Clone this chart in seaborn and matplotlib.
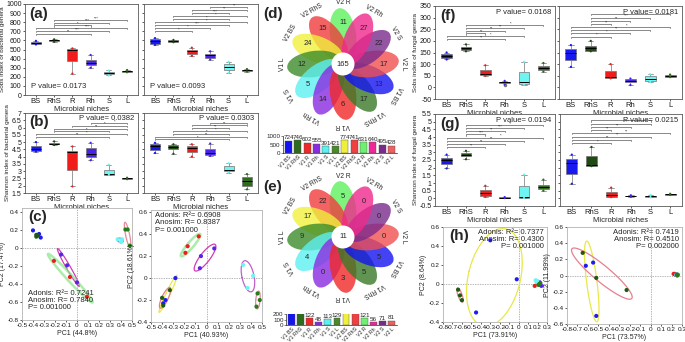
import numpy as np
import pandas as pd
import matplotlib
matplotlib.use('Agg')
import matplotlib.pyplot as plt
from matplotlib.patches import Ellipse, Circle
import seaborn as sns

sns.set_theme(style='ticks')
plt.rcParams['font.family'] = ['Liberation Sans', 'DejaVu Sans']
plt.rcParams['axes.linewidth'] = 0.6

W, H = 685, 342
fig = plt.figure(figsize=(W / 100, H / 100), dpi=100)

# ---------------- data ----------------
niches = ['BS', 'RhS', 'R', 'Rh', 'S', 'L']
box_palette = ['#1818f0', '#1f4a14', '#f01c1c', '#4a22e6', '#6ff4f4', '#2f6a1f']

sobs_bact_1 = [[555, 562, 572, 585, 595], [585, 592, 600, 606, 612], [235, 372, 500, 508, 512],
               [300, 325, 350, 390, 440], [215, 232, 245, 255, 270], [250, 255, 260, 265, 275]]
sobs_bact_2 = [[550, 565, 590, 620, 625], [580, 585, 592, 600, 605], [430, 455, 480, 500, 520],
               [390, 410, 435, 455, 480], [245, 280, 310, 340, 365], [258, 265, 272, 280, 285]]
shan_bact_1 = [[4.35, 4.4, 4.55, 4.7, 5.0], [4.8, 4.85, 4.9, 4.95, 5.05], [1.95, 3.1, 4.3, 4.4, 4.7],
               [3.75, 3.95, 4.2, 4.6, 4.95], [2.75, 2.75, 2.8, 3.1, 3.45], [2.45, 2.48, 2.5, 2.52, 2.55]]
shan_bact_2 = [[4.25, 4.45, 4.7, 4.85, 4.95], [4.2, 4.5, 4.65, 4.8, 4.85], [4.0, 4.35, 4.6, 4.75, 4.85],
               [4.05, 4.1, 4.25, 4.5, 4.9], [2.9, 3.0, 3.1, 3.35, 3.55], [1.75, 2.0, 2.3, 2.6, 2.8]]
sobs_fung_1 = [[120, 127, 135, 142, 150], [155, 160, 168, 175, 185], [50, 52, 57, 75, 95],
               [12, 20, 23, 25, 28], [12, 15, 22, 65, 110], [68, 75, 85, 92, 105]]
sobs_fung_2 = [[88, 118, 149, 165, 182], [155, 158, 171, 179, 200], [39, 40, 45, 72, 100],
               [10, 22, 28, 36, 38], [23, 29, 38, 49, 57], [44, 46, 49, 53, 55]]
shan_fung_1 = [[1.95, 2.25, 2.5, 2.65, 2.85], [2.55, 2.75, 2.85, 2.95, 3.1], [0.1, 0.15, 0.35, 0.55, 0.82],
               [0.02, 0.04, 0.05, 0.06, 0.08], [0.02, 0.05, 0.08, 0.8, 1.55], [0.5, 0.58, 0.72, 0.9, 1.22]]
shan_fung_2 = [[0.95, 1.6, 2.3, 2.55, 2.85], [2.1, 2.12, 2.2, 2.76, 3.35], [0.08, 0.1, 0.2, 0.4, 0.7],
               [0.1, 0.12, 0.15, 0.18, 0.2], [0.08, 0.1, 0.13, 0.18, 0.22], [0.22, 0.24, 0.26, 0.28, 0.3]]

p_a = ['P value= 0.0173', 'P value= 0.0093']
p_b = ['P value= 0.0382', 'P value= 0.0303']
p_f = ['P value= 0.0168', 'P value= 0.0181']
p_g = ['P value= 0.0194', 'P value= 0.0215']

sig_a1 = [(1, 5, '***'), (1, 4, '***'), (1, 3, '*'), (0, 5, '***'), (0, 4, '***'), (0, 3, '**')]
sig_a2 = [(3, 5, '**'), (2, 5, '**'), (2, 4, '***'), (1, 5, '*'), (1, 4, '*'), (0, 5, '*'),
          (0, 4, '***'), (0, 3, '*'), (0, 2, '*')]
sig_b1 = [(3, 5, '*'), (2, 5, '*'), (1, 5, '**'), (1, 4, '*'), (0, 5, '*'), (0, 4, '**')]
sig_b2 = [(3, 5, '*'), (2, 5, '**'), (2, 4, '**'), (1, 5, '*'), (1, 4, '*'), (0, 5, '**'), (0, 4, '*')]
sig_f1 = [(1, 5, '*'), (1, 4, '**'), (1, 3, '**'), (1, 2, '**'), (0, 4, '*'), (0, 3, '**')]
sig_f2 = [(1, 5, '*'), (1, 4, '***'), (1, 3, '**'), (1, 2, '**'), (0, 5, '*'), (0, 4, '**'),
          (0, 3, '*'), (0, 2, '*')]
sig_g1 = [(1, 5, '**'), (1, 4, '***'), (1, 3, '**'), (1, 2, '***'), (0, 5, '*'), (0, 4, '**'),
          (0, 3, '**'), (0, 2, '**')]
sig_g2 = [(1, 4, '*'), (1, 4, '***'), (1, 3, '**'), (1, 2, '**'), (0, 5, '**'), (0, 4, '**'),
          (0, 3, '**'), (0, 2, '*')]

# PCoA
pc_groups = [g for g in niches for _ in range(3)]
pt_palette = {'BS': '#1c1cf5', 'RhS': '#1f5a14', 'R': '#f01c1c', 'Rh': '#5a22ea', 'S': '#6ff4f4', 'L': '#2a7a1a'}
ell_palette = {'BS': '#e8e84a', 'RhS': '#e68090', 'R': '#86e486', 'Rh': '#d23cb4', 'S': '#c060c8', 'L': '#e88a9a'}

c1_x = [-0.40, -0.345, -0.33, -0.37, -0.37, -0.36, -0.21, -0.064, 0.09, -0.145, -0.09, 0.0,
        0.37, 0.40, 0.41, 0.44, 0.46, 0.48]
c1_y = [0.20, 0.16, 0.12, 0.15, 0.13, 0.14, -0.14, -0.32, -0.54, -0.07, -0.19, -0.38,
        0.10, 0.07, 0.10, 0.21, 0.21, 0.03]
c2_x = [-0.28, -0.37, -0.39, -0.33, -0.40, -0.39, -0.07, -0.17, -0.19, 0.07, -0.05, -0.06,
        0.33, 0.42, 0.37, 0.46, 0.45, 0.48]
c2_y = [0.0, -0.20, -0.23, -0.11, -0.18, -0.25, 0.38, 0.29, 0.23, 0.27, 0.20, 0.09,
        0.12, 0.02, -0.09, -0.14, -0.26, -0.20]
h1_x = [-0.02, -0.30, -0.45, -0.64, -0.60, -0.62, 0.17, 0.22, 0.20, 0.24, 0.23, 0.22,
        0.18, 0.20, 0.19, 0.22, 0.23, 0.21]
h1_y = [0.05, 0.46, -0.30, -0.06, -0.17, -0.12, -0.02, 0.0, 0.01, -0.02, -0.01, 0.02,
        0.04, 0.03, 0.02, 0.0, 0.01, -0.01]
h2_x = [-0.62, -0.55, -0.52, -0.65, -0.52, -0.23, 0.22, 0.23, 0.24, 0.24, 0.245, 0.25,
        0.245, 0.25, 0.255, 0.25, 0.26, 0.255]
h2_y = [0.12, 0.16, -0.50, 0.28, -0.03, -0.18, 0.02, 0.02, 0.01, 0.01, 0.01, 0.01,
        0.01, 0.0, 0.01, 0.01, 0.01, 0.0]

# Venn
venn_labels = ['V2 R', 'V2 RhS', 'V2 BS', 'V1 L', 'V1 S', 'V1 Rh', 'V1 R', 'V1 RhS', 'V1 BS',
               'V2 L', 'V2 S', 'V2 Rh']
venn_colors = ['#5ef05e', '#f03c3c', '#f0f03c', '#3d8c2a', '#5cf0f0', '#8a2be2', '#f02828',
               '#3a7a28', '#1414f0', '#f05050', '#7a2a8c', '#f0288c']
venn_d = [11, 15, 24, 12, 5, 14, 6, 17, 13, 17, 22, 27]
venn_d_core = 165
venn_e = [5, 22, 17, 9, 4, 0, 3, 5, 5, 0, 0, 0]
venn_e_core = 11

bar_labels = ['V1 BS', 'V1 RhS', 'V1 R', 'V1 Rh', 'V1 S', 'V1 L',
              'V2 BS', 'V2 RhS', 'V2 R', 'V2 Rh', 'V2 S', 'V2 L']
bar_colors = ['#1414f0', '#2e6b1e', '#f02828', '#8a2be2', '#5cf0f0', '#4a8a2a',
              '#f0f03c', '#f04040', '#70f070', '#f0289a', '#7a2a8c', '#f06060']
bar_d = [724, 746, 602, 555, 391, 421, 774, 741, 631, 640, 495, 428]
bar_e = [216, 254, 122, 48, 113, 129, 244, 268, 121, 56, 71, 81]


# ---------------- helpers ----------------
def pax(x0, y0, x1, y1):
    return fig.add_axes([x0 / W, 1 - y1 / H, (x1 - x0) / W, (y1 - y0) / H])


def fmt(v):
    if abs(v) < 1e-9:
        return '0'
    if float(v).is_integer():
        return str(int(v))
    return ('%.2f' % v).rstrip('0')


def frame(ax):
    for s in ax.spines.values():
        s.set_linewidth(0.6)
        s.set_color('0.35')
    ax.tick_params(length=1.5, width=0.5, pad=1, labelsize=5, colors='0.1')


def box_panel(rect, values, ylim, yticks, show_lab, sig, top, step, pval, ploc,
              label=None, ylabel=None):
    ax = pax(*rect)
    df = pd.DataFrame({'niche': np.repeat(niches, [len(v) for v in values]),
                       'value': np.concatenate(values)})
    sns.boxplot(data=df, x='niche', y='value', hue='niche', order=niches, hue_order=niches,
                palette=box_palette, width=0.55, linewidth=0.5, linecolor='0.45',
                fliersize=1.5, legend=False, ax=ax, saturation=1,
                medianprops=dict(color='black', linewidth=0.7))
    ext = df.groupby('niche', sort=False)['value'].agg(['min', 'max']).reset_index()
    ext = ext.melt(id_vars='niche', value_name='value')
    sns.stripplot(data=ext, x='niche', y='value', hue='niche', order=niches, hue_order=niches,
                  palette=box_palette, jitter=False, size=1.6, legend=False, ax=ax, zorder=4)
    ax.set_ylim(*ylim)
    ax.set_xlim(-0.6, 5.6)
    ax.set_yticks(yticks)
    ax.set_yticklabels([fmt(t) for t in yticks] if show_lab else [])
    ax.set_xlabel('Microbial niches', fontsize=5.5, labelpad=0.5)
    ax.set_ylabel(ylabel if ylabel else '', fontsize=4.6, labelpad=1)
    frame(ax)
    ax.tick_params(axis='x', labelsize=5.5)
    rng = ylim[1] - ylim[0]
    for k, (i, j, s) in enumerate(sig):
        y = ylim[0] + (top - k * step) * rng
        d = 0.012 * rng
        ax.plot([i, i, j, j], [y - d, y, y, y - d], color='0.35', lw=0.5)
        ax.text((i + j) / 2 + 0.3, y - 0.004 * rng, s, ha='center', va='bottom', fontsize=3)
    if ploc == 'bl':
        ax.text(0.05, 0.05, pval, transform=ax.transAxes, fontsize=5.5, ha='left', va='bottom')
    else:
        ax.text(0.97, 0.97, pval, transform=ax.transAxes, fontsize=5.5, ha='right', va='top')
    if label:
        ax.text(0.04, 0.97, label, transform=ax.transAxes, fontsize=11, fontweight='bold',
                ha='left', va='top')
    return ax


def conf_ellipse(ax, xs, ys, color, k=1.35, minr=2.0, lw=0.8, alpha=1.0):
    x0, x1 = ax.get_xlim()
    y0, y1 = ax.get_ylim()
    bb = ax.get_position()
    pw, ph = bb.width * W, bb.height * H
    px = (np.asarray(xs) - x0) / (x1 - x0) * pw
    py = (np.asarray(ys) - y0) / (y1 - y0) * ph
    pts = np.c_[px, py]
    m = pts.mean(0)
    C = np.cov(pts.T)
    vals, vecs = np.linalg.eigh(C)
    r = np.maximum(k * np.sqrt(np.maximum(vals, 0)), minr)
    t = np.linspace(0, 2 * np.pi, 120)
    curve = m + (vecs @ np.vstack([r[0] * np.cos(t), r[1] * np.sin(t)])).T
    ax.plot(x0 + curve[:, 0] / pw * (x1 - x0), y0 + curve[:, 1] / ph * (y1 - y0),
            color=color, lw=lw, zorder=1, alpha=alpha)


def pcoa_panel(rect, xs, ys, xlim, ylim, xticks, yticks, xlabel, ylabel, text, tloc,
               ell_groups, label=None, show_ylab=True):
    ax = pax(*rect)
    ax.set_xlim(*xlim)
    ax.set_ylim(*ylim)
    ax.axhline(0, color='0.6', lw=0.5, ls=(0, (2, 1.5)), zorder=0)
    ax.axvline(0, color='0.6', lw=0.5, ls=(0, (2, 1.5)), zorder=0)
    df = pd.DataFrame({'x': xs, 'y': ys, 'g': pc_groups})
    for g in ell_groups:
        sub = df[df.g == g]
        if g == 'R':
            conf_ellipse(ax, sub.x, sub.y, ell_palette[g], minr=3.0, lw=1.8, alpha=0.7)
        else:
            conf_ellipse(ax, sub.x, sub.y, ell_palette[g], lw=0.9)
    sns.scatterplot(data=df, x='x', y='y', hue='g', palette=pt_palette, s=9, linewidth=0,
                    legend=False, ax=ax, zorder=3)
    ax.set_xlim(*xlim)
    ax.set_ylim(*ylim)
    ax.set_xticks(xticks)
    ax.set_xticklabels([fmt(round(t, 2)) for t in xticks])
    ax.set_yticks(yticks)
    ax.set_yticklabels([fmt(round(t, 2)) for t in yticks] if show_ylab else [])
    ax.set_xlabel(xlabel, fontsize=5, labelpad=1)
    ax.set_ylabel(ylabel, fontsize=5, labelpad=1)
    frame(ax)
    for s in ax.spines.values():
        s.set_color('0.7')
    ax.tick_params(labelsize=4.6)
    if tloc == 'bl':
        ax.text(0.05, 0.08, text, transform=ax.transAxes, fontsize=5.5, ha='left', va='bottom',
                linespacing=1.05)
    elif tloc == 'tl':
        ax.text(0.04, 0.98, text, transform=ax.transAxes, fontsize=5.5, ha='left', va='top',
                linespacing=1.05)
    else:
        ax.text(0.97, 0.98, text, transform=ax.transAxes, fontsize=5.5, ha='right', va='top',
                linespacing=1.05)
    if label:
        ax.text(0.06, 0.98, label, transform=ax.transAxes, fontsize=11, fontweight='bold',
                ha='left', va='top')
    return ax


def venn_panel(cx, cy, counts, core, label):
    ax = pax(cx - 85, cy - 70, cx + 85, cy + 70)
    ax.set_xlim(-85, 85)
    ax.set_ylim(-70, 70)
    ax.axis('off')
    for k, (lab, col, cnt) in enumerate(zip(venn_labels, venn_colors, counts)):
        th = 90 + 30 * k
        r = np.deg2rad(th)
        c, s = np.cos(r), np.sin(r)
        ax.add_patch(Ellipse((29 * c, 29 * s), 54, 26, angle=th + 8, facecolor=col,
                             alpha=0.8, edgecolor='none'))
        ax.text(41 * c, 41 * s, str(cnt), ha='center', va='center', fontsize=5.5, zorder=4)
        ax.text(61 * c, 61 * s, lab, rotation=th - 90, ha='center', va='center',
                fontsize=4.8, zorder=4)
    ax.add_patch(Circle((0, 0), 11.5, facecolor='white', edgecolor='none', zorder=5))
    ax.text(0, 0, str(core), ha='center', va='center', fontsize=5.5, zorder=6)
    ax.text(-70, 50, label, ha='center', va='center', fontsize=11, fontweight='bold')


def bar_panel(rect, values, yticks):
    ax = pax(*rect)
    df = pd.DataFrame({'grp': bar_labels, 'n': values})
    sns.barplot(data=df, x='grp', y='n', hue='grp', palette=bar_colors, legend=False, ax=ax,
                width=0.75, edgecolor='0.3', linewidth=0.3, saturation=1)
    for cont in ax.containers:
        ax.bar_label(cont, fontsize=4.5, padding=0.2)
    ax.set_ylim(0, yticks[-1])
    ax.set_yticks(yticks)
    ax.set_yticklabels([str(t) for t in yticks])
    ax.set_xticks(range(len(bar_labels)))
    ax.set_xticklabels(bar_labels, rotation=45, ha='right', rotation_mode='anchor', fontsize=3.8)
    ax.set_xlabel('')
    ax.set_ylabel('')
    ax.spines['top'].set_visible(False)
    ax.spines['right'].set_visible(False)
    for s in ax.spines.values():
        s.set_linewidth(0.5)
    ax.tick_params(axis='y', length=1.2, width=0.4, pad=0.5, labelsize=4.5)
    ax.tick_params(axis='x', length=0, pad=1)
    ax.set_xlim(-0.6, 11.6)


# ---------------- panels ----------------
box_panel((25, 4, 138, 95), sobs_bact_1, (0, 1000), np.arange(0, 1001, 100), True, sig_a1,
          0.824, 0.03, p_a[0], 'bl', '(a)', 'Sobs index of bacterial genera')
box_panel((144, 4, 258, 95), sobs_bact_2, (0, 1000), np.arange(0, 1001, 100), False, sig_a2,
          0.965, 0.033, p_a[1], 'bl')
box_panel((25, 113, 138, 193), shan_bact_1, (1.5, 7), np.arange(1.5, 7.01, 0.5), True, sig_b1,
          0.873, 0.034, p_b[0], 'tr', '(b)', 'Shannon index of bacterial genera')
box_panel((144, 113, 258, 193), shan_bact_2, (1.5, 7), np.arange(1.5, 7.01, 0.5), False, sig_b2,
          0.88, 0.035, p_b[1], 'tr')
box_panel((435, 6, 555, 99), sobs_fung_1, (-50, 350), np.arange(-50, 351, 50), True, sig_f1,
          0.795, 0.03, p_f[0], 'tr', '(f)', 'Sobs index of fungal genera')
box_panel((559, 6, 682, 99), sobs_fung_2, (-50, 350), np.arange(-50, 351, 50), False, sig_f2,
          0.91, 0.034, p_f[1], 'tr')
box_panel((435, 114, 555, 206), shan_fung_1, (-0.5, 5.5), np.arange(-0.5, 5.51, 0.5), True, sig_g1,
          0.88, 0.034, p_g[0], 'tr', '(g)', 'Shannon index of fungal genera')
box_panel((560, 114, 682, 206), shan_fung_2, (-0.5, 5.5), np.arange(-0.5, 5.51, 0.5), False, sig_g2,
          0.93, 0.035, p_g[1], 'tr')

pcoa_panel((22, 208, 132, 320), c1_x, c1_y, (-0.5, 0.5), (-0.8, 0.45), np.arange(-0.5, 0.51, 0.1),
           np.arange(-0.8, 0.41, 0.2), 'PC1 (44.8%)', 'PC2 (17.47%)',
           'Adonis: R²= 0.7241\nAnosim: R= 0.7840\nP= 0.001000', 'bl', ['Rh', 'R', 'S', 'L'], '(c)')
pcoa_panel((151, 210, 262, 322), c2_x, c2_y, (-0.5, 0.5), (-0.4, 0.62), np.arange(-0.5, 0.51, 0.1),
           np.arange(-0.4, 0.61, 0.2), 'PC1 (40.93%)', 'PC2 (18.61%)',
           'Adonis: R²= 0.6908\nAnosim: R= 0.8387\nP= 0.001000', 'tl', ['BS', 'RhS', 'R', 'Rh', 'S', 'L'])
pcoa_panel((443, 227, 547, 322), h1_x, h1_y, (-0.8, 0.3), (-0.4, 0.6), np.arange(-0.8, 0.31, 0.1),
           np.arange(-0.4, 0.61, 0.2), 'PC1 (73.91%)', 'PC2 (8.64%)',
           'Adonis: R²= 0.7377\nAnosim: R= 0.4300\nP= 0.001000', 'tr', ['BS', 'RhS'], '(h)')
pcoa_panel((567, 227, 682, 324), h2_x, h2_y, (-0.8, 0.3), (-0.6, 0.6), np.arange(-0.8, 0.31, 0.1),
           np.arange(-0.6, 0.61, 0.2), 'PC1 (73.57%)', 'PC2 (11.99%)',
           'Adonis: R²= 0.7419\nAnosim: R= 0.4510\nP= 0.002000', 'tr', ['BS', 'RhS'])

venn_panel(343, 64, venn_d, venn_d_core, '(d)')
venn_panel(343, 237, venn_e, venn_e_core, '(e)')
bar_panel((283, 136, 397, 153), bar_d, [0, 500, 1000])
bar_panel((286, 314, 397, 325), bar_e, [0, 100, 200])

fig.savefig('out.png', dpi=100)
